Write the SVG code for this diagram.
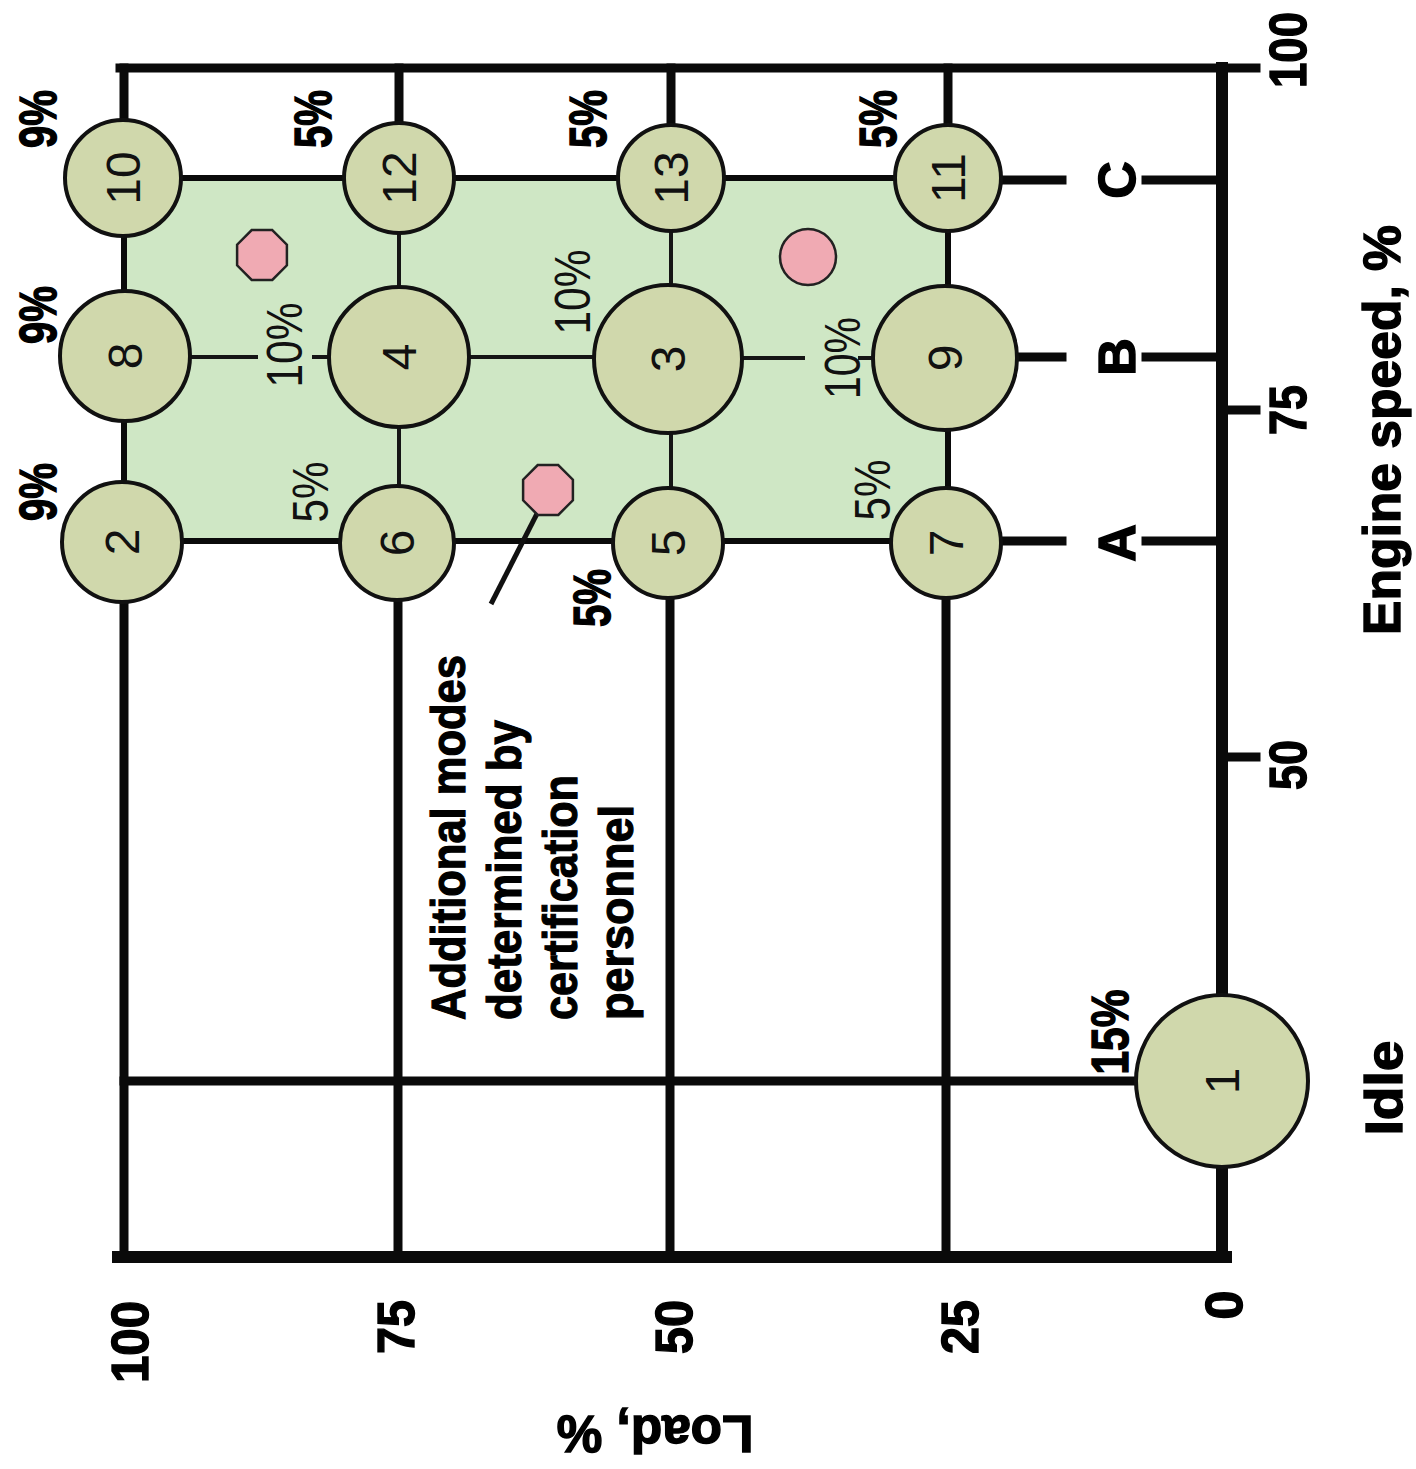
<svg xmlns="http://www.w3.org/2000/svg" width="1416" height="1469" viewBox="0 0 1416 1469">
<style>
  .grid{stroke:#0a0a0a;stroke-width:9;fill:none;stroke-linecap:square}
  .axis{stroke:#0a0a0a;stroke-width:12;fill:none;stroke-linecap:square}
  .inner{stroke:#151515;stroke-width:4;fill:none}
  .edge{stroke:#0a0a0a;stroke-width:6;fill:none}
  .mode{fill:#d0d8ac;stroke:#111;stroke-width:4}
  .extra{fill:#f0aab3;stroke:#222;stroke-width:2.5}
  .num{font-family:"Liberation Sans",Arial,sans-serif;font-size:48px;fill:#111;text-anchor:middle}
  .pct{font-family:"Liberation Sans",Arial,sans-serif;font-size:50px;fill:#111;text-anchor:middle}
  .lbl{font-family:"Liberation Sans",Arial,sans-serif;font-weight:bold;font-size:52px;fill:#000;stroke:#000;stroke-width:1.4;text-anchor:middle}
  .note{font-family:"Liberation Sans",Arial,sans-serif;font-weight:bold;font-size:48px;fill:#000;stroke:#000;stroke-width:1.2;text-anchor:start}
</style>
<rect width="1416" height="1469" fill="#ffffff"/>
<rect id="region" x="124" y="178" width="824" height="363" fill="#cfe7c5"/>
<g id="connectors">
  <line class="grid" x1="120" y1="68" x2="1256" y2="68"/>
  <line class="axis" x1="118" y1="1257" x2="1226" y2="1257"/>
  <line class="axis" x1="1222" y1="68" x2="1222" y2="1257"/>
  <line class="grid" x1="124" y1="68" x2="124" y2="178"/>
  <line class="grid" x1="399" y1="68" x2="399" y2="178"/>
  <line class="grid" x1="671" y1="68" x2="671" y2="178"/>
  <line class="grid" x1="948" y1="68" x2="948" y2="178"/>
  <line class="grid" x1="124" y1="541" x2="124" y2="1257"/>
  <line class="grid" x1="398" y1="541" x2="398" y2="1257"/>
  <line class="grid" x1="670" y1="541" x2="670" y2="1257"/>
  <line class="grid" x1="946" y1="541" x2="946" y2="1257"/>
  <line class="grid" x1="124" y1="1081" x2="1140" y2="1081"/>
  <line class="grid" x1="1222" y1="410" x2="1256" y2="410"/>
  <line class="grid" x1="1222" y1="757" x2="1256" y2="757"/>
  <line class="grid" x1="990" y1="180" x2="1062" y2="180"/>
  <line class="grid" x1="1146" y1="180" x2="1222" y2="180"/>
  <line class="grid" x1="1010" y1="357" x2="1062" y2="357"/>
  <line class="grid" x1="1146" y1="357" x2="1222" y2="357"/>
  <line class="grid" x1="990" y1="541" x2="1062" y2="541"/>
  <line class="grid" x1="1146" y1="541" x2="1222" y2="541"/>
  <line class="edge" x1="124" y1="178" x2="948" y2="178"/>
  <line class="edge" x1="124" y1="541" x2="948" y2="541"/>
  <line class="edge" x1="124" y1="178" x2="124" y2="541"/>
  <line class="edge" x1="948" y1="178" x2="948" y2="541"/>
  <line class="inner" x1="399" y1="178" x2="399" y2="541"/>
  <line class="inner" x1="671" y1="178" x2="671" y2="541"/>
  <line class="inner" x1="185" y1="357" x2="258" y2="357"/>
  <line class="inner" x1="312" y1="357" x2="335" y2="357"/>
  <line class="inner" x1="465" y1="357" x2="600" y2="357"/>
  <line class="inner" x1="738" y1="358" x2="805" y2="358"/>
  <line class="inner" x1="858" y1="358" x2="878" y2="358"/>
  <line x1="546" y1="496" x2="491" y2="604" stroke="#111" stroke-width="5"/>
</g>
<g id="mode-10"><circle class="mode" cx="123" cy="178" r="58"/><text class="num" transform="translate(140,178) rotate(-90)">10</text></g>
<g id="mode-12"><circle class="mode" cx="399" cy="178" r="55"/><text class="num" transform="translate(416,178) rotate(-90)">12</text></g>
<g id="mode-13"><circle class="mode" cx="671" cy="178" r="53"/><text class="num" transform="translate(688,178) rotate(-90)">13</text></g>
<g id="mode-11"><circle class="mode" cx="948" cy="178" r="53"/><text class="num" transform="translate(965,178) rotate(-90)">11</text></g>
<g id="mode-8"><circle class="mode" cx="125" cy="356" r="65"/><text class="num" transform="translate(142,356) rotate(-90)">8</text></g>
<g id="mode-4"><circle class="mode" cx="399" cy="357" r="70"/><text class="num" transform="translate(416,357) rotate(-90)">4</text></g>
<g id="mode-3"><circle class="mode" cx="668" cy="359" r="74"/><text class="num" transform="translate(685,359) rotate(-90)">3</text></g>
<g id="mode-9"><circle class="mode" cx="945" cy="358" r="72"/><text class="num" transform="translate(962,358) rotate(-90)">9</text></g>
<g id="mode-2"><circle class="mode" cx="122" cy="542" r="60"/><text class="num" transform="translate(139,542) rotate(-90)">2</text></g>
<g id="mode-6"><circle class="mode" cx="397" cy="543" r="57"/><text class="num" transform="translate(414,543) rotate(-90)">6</text></g>
<g id="mode-5"><circle class="mode" cx="668" cy="543" r="55"/><text class="num" transform="translate(685,543) rotate(-90)">5</text></g>
<g id="mode-7"><circle class="mode" cx="946" cy="543" r="55"/><text class="num" transform="translate(963,543) rotate(-90)">7</text></g>
<g id="mode-1"><circle class="mode" cx="1222" cy="1081" r="86"/><text class="num" transform="translate(1239,1081) rotate(-90)">1</text></g>
<g id="extra-modes">
  <polygon class="extra" points="272.3,230.1 286.9,244.7 286.9,265.3 272.3,279.9 251.7,279.9 237.1,265.3 237.1,244.7 251.7,230.1"/>
  <polygon class="extra" points="558.3,465.1 572.9,479.7 572.9,500.3 558.3,514.9 537.7,514.9 523.1,500.3 523.1,479.7 537.7,465.1"/>
  <circle class="extra" cx="808" cy="257" r="28"/>
</g>
<g id="weights-inner">
  <text class="pct" transform="translate(302,345) rotate(-90)" textLength="85" lengthAdjust="spacingAndGlyphs">10%</text>
  <text class="pct" transform="translate(590,292) rotate(-90)" textLength="85" lengthAdjust="spacingAndGlyphs">10%</text>
  <text class="pct" transform="translate(860,358) rotate(-90)" textLength="82" lengthAdjust="spacingAndGlyphs">10%</text>
  <text class="pct" transform="translate(328,492) rotate(-90)" textLength="61" lengthAdjust="spacingAndGlyphs">5%</text>
  <text class="pct" transform="translate(890,490) rotate(-90)" textLength="61" lengthAdjust="spacingAndGlyphs">5%</text>
</g>
<g id="weights-outer">
  <text class="lbl" transform="translate(56,119) rotate(-90)" textLength="58" lengthAdjust="spacingAndGlyphs">9%</text>
  <text class="lbl" transform="translate(56,315) rotate(-90)" textLength="58" lengthAdjust="spacingAndGlyphs">9%</text>
  <text class="lbl" transform="translate(56,492) rotate(-90)" textLength="58" lengthAdjust="spacingAndGlyphs">9%</text>
  <text class="lbl" transform="translate(331,119) rotate(-90)" textLength="58" lengthAdjust="spacingAndGlyphs">5%</text>
  <text class="lbl" transform="translate(606,119) rotate(-90)" textLength="58" lengthAdjust="spacingAndGlyphs">5%</text>
  <text class="lbl" transform="translate(896,119) rotate(-90)" textLength="58" lengthAdjust="spacingAndGlyphs">5%</text>
  <text class="lbl" transform="translate(610,598) rotate(-90)" textLength="58" lengthAdjust="spacingAndGlyphs">5%</text>
  <text class="lbl" transform="translate(1128,1032) rotate(-90)" textLength="85" lengthAdjust="spacingAndGlyphs">15%</text>
</g>
<g id="note">
  <text class="note" transform="translate(465,1020) rotate(-90)" textLength="365" lengthAdjust="spacingAndGlyphs">Additional modes</text>
  <text class="note" transform="translate(521,1020) rotate(-90)" textLength="300" lengthAdjust="spacingAndGlyphs">determined by</text>
  <text class="note" transform="translate(577,1020) rotate(-90)" textLength="245" lengthAdjust="spacingAndGlyphs">certification</text>
  <text class="note" transform="translate(633,1020) rotate(-90)" textLength="215" lengthAdjust="spacingAndGlyphs">personnel</text>
</g>
<g id="speed-axis-labels">
  <text class="lbl" transform="translate(1306,50) rotate(-90)" textLength="76" lengthAdjust="spacingAndGlyphs">100</text>
  <text class="lbl" transform="translate(1306,410) rotate(-90)" textLength="50" lengthAdjust="spacingAndGlyphs">75</text>
  <text class="lbl" transform="translate(1306,765) rotate(-90)" textLength="50" lengthAdjust="spacingAndGlyphs">50</text>
  <text class="lbl" transform="translate(1135,180) rotate(-90)">C</text>
  <text class="lbl" transform="translate(1135,357) rotate(-90)">B</text>
  <text class="lbl" transform="translate(1135,543) rotate(-90)">A</text>
  <text class="lbl" transform="translate(1400,430) rotate(-90)" textLength="410" lengthAdjust="spacingAndGlyphs">Engine speed, %</text>
  <text class="lbl" transform="translate(1402,1088) rotate(-90)" textLength="95" lengthAdjust="spacingAndGlyphs">Idle</text>
</g>
<g id="load-axis-labels">
  <text class="lbl" transform="translate(148,1342) rotate(-90)" textLength="82" lengthAdjust="spacingAndGlyphs">100</text>
  <text class="lbl" transform="translate(414,1327) rotate(-90)" textLength="54" lengthAdjust="spacingAndGlyphs">75</text>
  <text class="lbl" transform="translate(692,1327) rotate(-90)" textLength="54" lengthAdjust="spacingAndGlyphs">50</text>
  <text class="lbl" transform="translate(978,1327) rotate(-90)" textLength="54" lengthAdjust="spacingAndGlyphs">25</text>
  <text class="lbl" transform="translate(1242,1305) rotate(-90)">0</text>
  <text class="lbl" transform="translate(655,1416) rotate(180)" textLength="197" lengthAdjust="spacingAndGlyphs">Load, %</text>
</g>
</svg>
